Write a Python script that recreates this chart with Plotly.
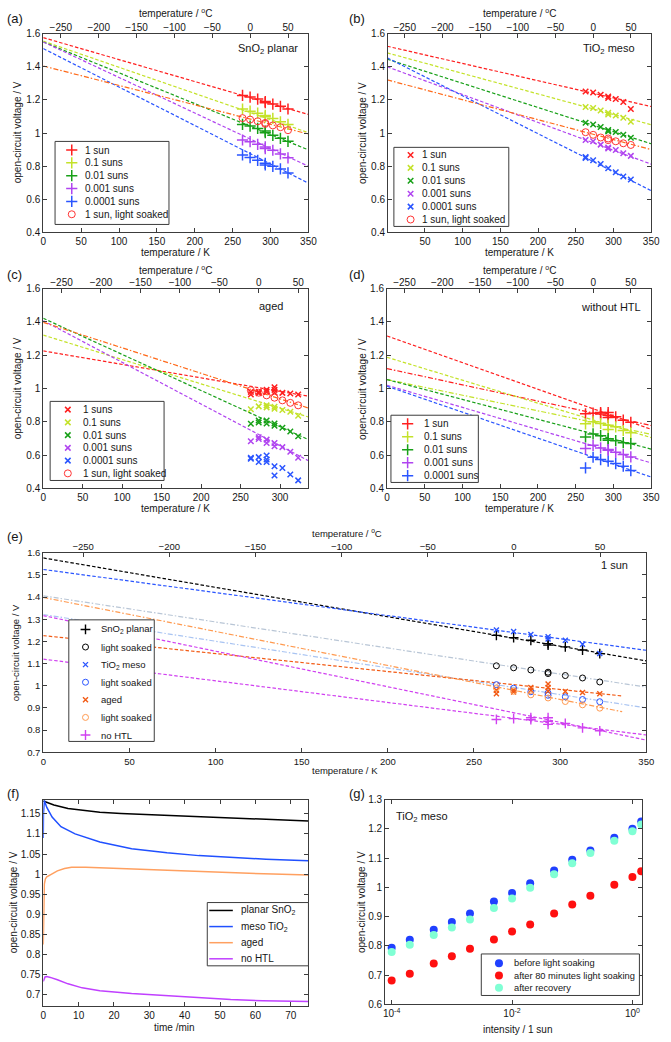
import plotly.graph_objects as go

W, H = 671, 1042
FONT = "Liberation Sans, Arial, Helvetica, sans-serif"
AXC = "#3c3c3c"
TXT = "#161616"

# ---------------- data ----------------
T_STD = [263, 273, 283, 293, 293, 303, 313, 323]
T_7 = [263, 273, 283, 293, 303, 313, 323]
FIT_T = [0, 350]
FIT_T_AGED = [0, 336]

# (a) SnO2 planar
A_1SUN = [1.227, 1.217, 1.205, 1.190, 1.183, 1.175, 1.161, 1.145]
A_01 = [1.145, 1.132, 1.120, 1.106, 1.098, 1.088, 1.068, 1.052]
A_001 = [1.052, 1.042, 1.028, 1.012, 1.002, 0.986, 0.968, 0.950]
A_0001 = [0.958, 0.948, 0.932, 0.916, 0.906, 0.896, 0.874, 0.850]
A_00001 = [0.868, 0.852, 0.835, 0.817, 0.807, 0.799, 0.783, 0.759]
A_LS = [1.090, 1.081, 1.071, 1.061, 1.055, 1.046, 1.035, 1.017]
FA_1SUN = [1.576, 1.112]
FA_01 = [1.555, 1.002]
FA_001 = [1.550, 0.898]
FA_0001 = [1.550, 0.799]
FA_00001 = [1.510, 0.697]
FA_LS = [1.405, 0.994]

# (b) TiO2 meso
B_1SUN = [1.251, 1.245, 1.231, 1.221, 1.211, 1.205, 1.187, 1.145]
B_01 = [1.157, 1.151, 1.136, 1.122, 1.112, 1.106, 1.092, 1.068]
B_001 = [1.062, 1.052, 1.036, 1.018, 1.010, 1.006, 0.990, 0.972]
B_0001 = [0.958, 0.950, 0.930, 0.912, 0.906, 0.898, 0.878, 0.862]
B_00001_T = [263, 263, 273, 283, 293, 303, 313, 323]
B_00001 = [0.855, 0.849, 0.835, 0.813, 0.787, 0.763, 0.737, 0.719]
B_LS = [1.005, 0.989, 0.973, 0.967, 0.957, 0.950, 0.938, 0.928]
FB_1SUN = [1.524, 1.160]
FB_01 = [1.484, 1.050]
FB_001 = [1.446, 0.935]
FB_0001 = [1.400, 0.812]
FB_00001 = [1.454, 0.652]
FB_LS = [1.321, 0.900]

# (c) aged
C_1SUN_T = [263, 263, 273, 273, 283, 283, 293, 293, 293, 303, 313, 323]
C_1SUN = [0.964, 0.980, 0.980, 0.972, 0.992, 0.980, 1.008, 0.992, 0.976, 0.974, 0.970, 0.964]
C_01_T = [263, 273, 283, 283, 293, 293, 303, 313, 323]
C_01 = [0.876, 0.893, 0.899, 0.887, 0.891, 0.879, 0.871, 0.861, 0.837]
C_001_T = [263, 273, 273, 283, 283, 293, 293, 303, 313, 323]
C_001 = [0.788, 0.808, 0.796, 0.808, 0.790, 0.790, 0.776, 0.764, 0.742, 0.713]
C_0001_T = [263, 273, 273, 283, 283, 293, 293, 303, 313, 323]
C_0001 = [0.683, 0.707, 0.697, 0.693, 0.673, 0.673, 0.653, 0.648, 0.620, 0.584]
C_00001_T = [263, 263, 273, 273, 283, 283, 283, 293, 293, 303, 313, 323]
C_00001 = [0.584, 0.578, 0.588, 0.558, 0.598, 0.574, 0.558, 0.533, 0.477, 0.523, 0.483, 0.448]
C_LS = [0.990, 0.975, 0.959, 0.945, 0.929, 0.914, 0.899]
FC_1SUN = [1.226, 0.954]
FC_01 = [1.321, 0.829]
FC_001 = [1.422, 0.693]
FC_0001 = [1.408, 0.566]
FC_LS = [1.398, 0.883]

# (d) without HTL
D_1SUN_T = [263, 273, 283, 283, 293, 293, 293, 303, 313, 323]
D_1SUN = [0.848, 0.852, 0.856, 0.847, 0.856, 0.840, 0.826, 0.830, 0.810, 0.797]
D_01 = [0.788, 0.800, 0.790, 0.780, 0.754, 0.770, 0.748, 0.734]
D_001 = [0.709, 0.727, 0.717, 0.699, 0.689, 0.687, 0.675, 0.669]
D_0001 = [0.639, 0.659, 0.643, 0.633, 0.629, 0.617, 0.603, 0.589]
D_00001 = [0.523, 0.587, 0.573, 0.563, 0.549, 0.533, 0.507]
FD_1SUN_A = [1.316, 0.755]
FD_1SUN_B = [1.120, 0.778]
FD_01_A = [1.188, 0.705]
FD_01_B = [1.054, 0.725]
FD_001 = [1.054, 0.636]
FD_0001 = [1.020, 0.553]
FD_00001 = [1.014, 0.468]

# (f) Voc vs time
F_T_PLANAR = [0, 1, 3, 7, 12, 16, 22, 30, 40, 50, 60, 70, 75]
F_PLANAR = [1.182, 1.178, 1.172, 1.163, 1.158, 1.154, 1.151, 1.148, 1.144, 1.140, 1.137, 1.134, 1.132]
F_T_MESO = [0, 0.05, 0.3, 1, 2.5, 5, 9, 16, 25, 35, 44, 53, 63, 75]
F_MESO = [1.09, 1.15, 1.183, 1.166, 1.142, 1.118, 1.100, 1.080, 1.063, 1.053, 1.046, 1.041, 1.037, 1.033]
F_T_AGED = [0, 0.1, 0.3, 0.6, 1, 2, 4, 6, 8, 12, 18, 25, 35, 45, 55, 65, 75]
F_AGED = [0.825, 0.90, 0.975, 0.988, 0.993, 0.998, 1.008, 1.014, 1.017, 1.017, 1.015, 1.013, 1.009, 1.006, 1.003, 1.000, 0.998]
F_T_NOHTL = [0, 0.5, 1, 2, 4, 7, 11, 16, 25, 35, 44, 53, 62, 75]
F_NOHTL = [0.733, 0.744, 0.745, 0.743, 0.737, 0.727, 0.717, 0.710, 0.703, 0.697, 0.692, 0.688, 0.685, 0.683]

# (g) Voc vs intensity
G_INT = [1e-4, 2e-4, 5e-4, 1e-3, 2e-3, 5e-3, 1e-2, 2e-2, 5e-2, 1e-1, 2e-1, 5e-1, 1.0, 1.4]
G_BEFORE = [0.794, 0.821, 0.855, 0.882, 0.911, 0.952, 0.981, 1.014, 1.058, 1.095, 1.126, 1.170, 1.201, 1.226]
G_AFTER = [0.682, 0.705, 0.740, 0.765, 0.790, 0.822, 0.849, 0.873, 0.911, 0.942, 0.972, 1.009, 1.036, 1.055]
G_RECOV = [0.779, 0.804, 0.837, 0.863, 0.890, 0.930, 0.962, 0.999, 1.045, 1.083, 1.118, 1.160, 1.192, 1.215]

# tick labels
K_TICKS = [0, 50, 100, 150, 200, 250, 300, 350]
C_TICKS = [-250, -200, -150, -100, -50, 0, 50]
Y_ABCD = [0.4, 0.6, 0.8, 1.0, 1.2, 1.4, 1.6]
Y_ABCD_TXT = ["0.4", "0.6", "0.8", "1", "1.2", "1.4", "1.6"]
Y_E = [0.7, 0.8, 0.9, 1.0, 1.1, 1.2, 1.3, 1.4, 1.5, 1.6]
Y_E_TXT = ["0.7", "0.8", "0.9", "1", "1.1", "1.2", "1.3", "1.4", "1.5", "1.6"]
X_F = [0, 10, 20, 30, 40, 50, 60, 70]
Y_F = [0.7, 0.75, 0.8, 0.85, 0.9, 0.95, 1.0, 1.05, 1.1, 1.15]
Y_F_TXT = ["0.7", "0.75", "0.8", "0.85", "0.9", "0.95", "1", "1.05", "1.1", "1.15"]
X_G = [1e-4, 1e-2, 1]
X_G_TXT = ["10<sup>-4</sup>", "10<sup>-2</sup>", "10<sup>0</sup>"]
Y_G = [0.6, 0.7, 0.8, 0.9, 1.0, 1.1, 1.2, 1.3]
Y_G_TXT = ["0.6", "0.7", "0.8", "0.9", "1", "1.1", "1.2", "1.3"]

# ---------------- styles ----------------
RED = "#ff1f1f"
YEL = "#c4e22a"
GRN = "#18a018"
PUR = "#b044f0"
BLU = "#2a55ff"
ORG = "#ff6a1a"
LSRED = "#ff3434"
E_LS_SN = "#b9c6d6"
E_LS_TI = "#a9c4f2"
E_AGED = "#f25a14"
E_AGED_LS = "#ff9a50"
MAG = "#d040f0"
F_BLU = "#2050ff"
F_ORG = "#ffa060"
F_MAG = "#c040ff"
G_BLU = "#2040ff"
G_RED = "#ff1010"
G_CYAN = "#80ffd4"
DASH = "3.5px,2px"
DASHDOT = "5px,2px,1.5px,2px"

fig = go.Figure()
annotations = []


def A(x, y, text, size=10, xanchor="center", angle=0, color=TXT):
    annotations.append(dict(x=x / W, y=1 - y / H, xref="paper", yref="paper", text=text,
                            showarrow=False, xanchor=xanchor, yanchor="middle",
                            textangle=angle, font=dict(family=FONT, size=size, color=color)))


def mk(symbol, color, size, lw=1.4):
    return dict(symbol=symbol, color=color, size=size, line=dict(color=color, width=lw))


def line(xr, yr, T, V, color, dash, width=1.2):
    fig.add_trace(go.Scatter(x=T, y=V, mode="lines", xaxis=xr, yaxis=yr,
                             line=dict(color=color, dash=dash, width=width),
                             showlegend=False, hoverinfo="skip"))


def pts(xr, yr, T, V, marker):
    fig.add_trace(go.Scatter(x=T, y=V, mode="markers", xaxis=xr, yaxis=yr, marker=marker,
                             showlegend=False, hoverinfo="skip"))


def base_axis(**kw):
    d = dict(showgrid=False, zeroline=False, showline=True, linecolor=AXC, linewidth=1,
             ticks="inside", ticklen=4, tickwidth=1, tickcolor=AXC, mirror=True,
             tickfont=dict(family=FONT, size=10, color=TXT), layer="above traces")
    d.update(kw)
    return d


def xdom(x0, x1):
    return [x0 / W, x1 / W]


def ydom(y0, y1):
    return [1 - y1 / H, 1 - y0 / H]


layout_axes = {}

# panel boxes in pixels (x0, y0, x1, y1)
BOX = {
    "a": (41, 28, 311, 229),
    "b": (392, 28, 660, 229),
    "c": (41, 286, 311, 488),
    "d": (391, 286, 660, 488),
    "e": (41, 553, 655, 755),
    "f": (41, 803, 311, 1012),
    "g": (389, 803, 651, 1010),
}
XR = {"a": [0, 350], "b": [1, 350], "c": [0, 336], "d": [0, 350], "e": [0, 350]}
IDS = {"a": ("x", "y", "xaxis", "yaxis"), "b": ("x2", "y2", "xaxis2", "yaxis2"),
       "c": ("x3", "y3", "xaxis3", "yaxis3"), "d": ("x4", "y4", "xaxis4", "yaxis4"),
       "e": ("x5", "y5", "xaxis5", "yaxis5")}
TOP = {"a": ("x8", "xaxis8"), "b": ("x9", "xaxis9"), "c": ("x10", "xaxis10"),
       "d": ("x11", "xaxis11"), "e": ("x12", "xaxis12")}

for key in ["a", "b", "c", "d", "e"]:
    x0, y0, x1, y1 = BOX[key]
    xid, yid, xname, yname = IDS[key]
    fs = 9.5 if key == "e" else 10
    xt = K_TICKS if key != "b" else K_TICKS[1:]
    layout_axes[xname] = base_axis(domain=xdom(x0, x1), range=XR[key], anchor=yid,
                                   tickvals=xt, mirror=True,
                                   tickfont=dict(family=FONT, size=fs, color=TXT))
    yt, ytt, yrng = (Y_E, Y_E_TXT, [0.7, 1.6]) if key == "e" else (Y_ABCD, Y_ABCD_TXT, [0.4, 1.6])
    layout_axes[yname] = base_axis(domain=ydom(y0, y1), range=yrng, anchor=xid,
                                   tickvals=yt, ticktext=ytt, mirror="ticks",
                                   tickfont=dict(family=FONT, size=fs, color=TXT))
    tid, tname = TOP[key]
    layout_axes[tname] = base_axis(overlaying=xid, side="top", anchor=yid,
                                   range=[XR[key][0] - 273.15, XR[key][1] - 273.15],
                                   tickvals=C_TICKS, showline=False, mirror=False,
                                   tickfont=dict(family=FONT, size=fs, color=TXT))
    fig.add_trace(go.Scatter(x=[None], y=[None], xaxis=tid, yaxis=yid, showlegend=False,
                             hoverinfo="skip"))

# (f)
x0, y0, x1, y1 = BOX["f"]
layout_axes["xaxis6"] = base_axis(domain=xdom(x0, x1), range=[0, 75], anchor="y6",
                                  tickvals=X_F, mirror="ticks")
layout_axes["yaxis6"] = base_axis(domain=ydom(y0, y1), range=[0.671, 1.185], anchor="x6",
                                  tickvals=Y_F, ticktext=Y_F_TXT, mirror="ticks")
# (g)
x0, y0, x1, y1 = BOX["g"]
layout_axes["xaxis7"] = base_axis(domain=xdom(x0, x1), type="log", range=[-4.11, 0.165],
                                  anchor="y7", tickvals=X_G, ticktext=X_G_TXT, mirror="ticks")
layout_axes["yaxis7"] = base_axis(domain=ydom(y0, y1), range=[0.6, 1.3], anchor="x7",
                                  tickvals=Y_G, ticktext=Y_G_TXT, mirror="ticks")
# overlay in pixel coordinates for legend keys
layout_axes["xaxis13"] = dict(domain=[0, 1], range=[0, W], anchor="y13", visible=False,
                              fixedrange=True)
layout_axes["yaxis13"] = dict(domain=[0, 1], range=[H, 0], anchor="x13", visible=False,
                              fixedrange=True)

# ---------------- (a) ----------------
for V, c in [(FA_1SUN, RED), (FA_01, YEL), (FA_001, GRN), (FA_0001, PUR), (FA_00001, BLU)]:
    line("x", "y", FIT_T, V, c, DASH)
line("x", "y", FIT_T, FA_LS, ORG, DASHDOT)
for V, c in [(A_1SUN, RED), (A_01, YEL), (A_001, GRN), (A_0001, PUR), (A_00001, BLU)]:
    pts("x", "y", T_STD, V, mk("cross-thin", c, 8, 1.5))
pts("x", "y", T_STD, A_LS, mk("circle-open", LSRED, 7, 1))

# ---------------- (b) ----------------
for V, c in [(FB_1SUN, RED), (FB_01, YEL), (FB_001, GRN), (FB_0001, PUR), (FB_00001, BLU)]:
    line("x2", "y2", FIT_T, V, c, DASH)
line("x2", "y2", FIT_T, FB_LS, ORG, DASHDOT)
for T, V, c in [(T_STD, B_1SUN, RED), (T_STD, B_01, YEL), (T_STD, B_001, GRN),
                (T_STD, B_0001, PUR), (B_00001_T, B_00001, BLU)]:
    pts("x2", "y2", T, V, mk("x-thin", c, 5.5, 1.5))
pts("x2", "y2", T_STD, B_LS, mk("circle-open", LSRED, 7, 1))

# ---------------- (c) ----------------
for V, c in [(FC_1SUN, RED), (FC_01, YEL), (FC_001, GRN), (FC_0001, PUR)]:
    line("x3", "y3", FIT_T_AGED, V, c, DASH)
line("x3", "y3", FIT_T_AGED, FC_LS, ORG, DASHDOT)
for T, V, c in [(C_1SUN_T, C_1SUN, RED), (C_01_T, C_01, YEL), (C_001_T, C_001, GRN),
                (C_0001_T, C_0001, PUR), (C_00001_T, C_00001, BLU)]:
    pts("x3", "y3", T, V, mk("x-thin", c, 5.5, 1.5))
pts("x3", "y3", T_7, C_LS, mk("circle-open", LSRED, 7, 1))

# ---------------- (d) ----------------
line("x4", "y4", FIT_T, FD_1SUN_A, RED, DASH)
line("x4", "y4", FIT_T, FD_1SUN_B, RED, DASHDOT)
line("x4", "y4", FIT_T, FD_01_A, YEL, DASH)
line("x4", "y4", FIT_T, FD_01_B, YEL, DASHDOT)
line("x4", "y4", FIT_T, FD_001, GRN, DASH)
line("x4", "y4", FIT_T, FD_0001, PUR, DASH)
line("x4", "y4", FIT_T, FD_00001, BLU, DASH)
for T, V, c in [(D_1SUN_T, D_1SUN, RED), (T_STD, D_01, YEL), (T_STD, D_001, GRN),
                (T_STD, D_0001, PUR), (T_7, D_00001, BLU)]:
    pts("x4", "y4", T, V, mk("cross-thin", c, 8, 1.5))

# ---------------- (e) ----------------
line("x5", "y5", FIT_T, FA_1SUN, "#000000", DASH)
line("x5", "y5", FIT_T, FA_LS, E_LS_SN, DASHDOT)
line("x5", "y5", FIT_T, FB_1SUN, BLU, DASH)
line("x5", "y5", FIT_T, FB_LS, E_LS_TI, DASHDOT)
line("x5", "y5", FIT_T_AGED, FC_1SUN, E_AGED, DASH)
line("x5", "y5", FIT_T_AGED, FC_LS, E_AGED_LS, DASHDOT)
line("x5", "y5", FIT_T, FD_1SUN_A, MAG, DASH)
line("x5", "y5", FIT_T, FD_1SUN_B, MAG, DASH)
pts("x5", "y5", T_STD, A_1SUN, mk("cross-thin", "#000000", 7, 1.4))
pts("x5", "y5", T_STD, A_LS, mk("circle-open", "#000000", 6, 1))
pts("x5", "y5", T_STD, B_1SUN, mk("x-thin", BLU, 5, 1.4))
pts("x5", "y5", T_STD, B_LS, mk("circle-open", BLU, 6, 1))
pts("x5", "y5", C_1SUN_T, C_1SUN, mk("x-thin", E_AGED, 5, 1.4))
pts("x5", "y5", T_7, C_LS, mk("circle-open", E_AGED_LS, 6, 1))
pts("x5", "y5", D_1SUN_T, D_1SUN, mk("cross-thin", MAG, 7, 1.4))

# ---------------- (f) ----------------
for T, V, c in [(F_T_PLANAR, F_PLANAR, "#000000"), (F_T_MESO, F_MESO, F_BLU),
                (F_T_AGED, F_AGED, F_ORG), (F_T_NOHTL, F_NOHTL, F_MAG)]:
    line("x6", "y6", T, V, c, "solid", 1.5)

# ---------------- (g) ----------------
pts("x7", "y7", G_INT, G_BEFORE, dict(symbol="circle", color=G_BLU, size=8, line=dict(width=0)))
pts("x7", "y7", G_INT, G_AFTER, dict(symbol="circle", color=G_RED, size=8, line=dict(width=0)))
pts("x7", "y7", G_INT, G_RECOV, dict(symbol="circle", color=G_CYAN, size=8, line=dict(width=0)))


# ---------------- legends (drawn on the pixel overlay) ----------------
def legend(box, entries, xs, xt, yfirst, dy, size=10):
    bx0, by0, bx1, by1 = box
    fig.add_trace(go.Scatter(x=[bx0, bx1, bx1, bx0, bx0], y=[by0, by0, by1, by1, by0],
                             mode="lines", fill="toself", fillcolor="white",
                             line=dict(color=AXC, width=1), xaxis="x13", yaxis="y13",
                             showlegend=False, hoverinfo="skip"))
    for i, (label, kind, style) in enumerate(entries):
        yy = yfirst + i * dy
        if kind == "line":
            fig.add_trace(go.Scatter(x=[xs - 12, xs + 12], y=[yy, yy], mode="lines",
                                     line=dict(color=style, width=1.5), xaxis="x13",
                                     yaxis="y13", showlegend=False, hoverinfo="skip"))
        else:
            fig.add_trace(go.Scatter(x=[xs], y=[yy], mode="markers", marker=style,
                                     xaxis="x13", yaxis="y13", showlegend=False,
                                     hoverinfo="skip"))
        A(xt, yy, label, size=size, xanchor="left")


SUNS = ["1 sun", "0.1 suns", "0.01 suns", "0.001 suns", "0.0001 suns"]
COLS = [RED, YEL, GRN, PUR, BLU]
legend((53, 137, 169, 221),
       [(s, "m", mk("cross-thin", c, 8, 1.5)) for s, c in zip(SUNS, COLS)]
       + [("1 sun, light soaked", "m", mk("circle-open", LSRED, 7, 1))],
       70, 81, 145.7, 13.0)
legend((398, 143, 515, 223),
       [(s, "m", mk("x-thin", c, 5.5, 1.5)) for s, c in zip(SUNS, COLS)]
       + [("1 sun, light soaked", "m", mk("circle-open", LSRED, 7, 1))],
       415, 425, 150.7, 13.06)
legend((48, 400, 164, 480),
       [(s, "m", mk("x-thin", c, 5.5, 1.5)) for s, c in zip(["1 suns"] + SUNS[1:], COLS)]
       + [("1 sun, light soaked", "m", mk("circle-open", LSRED, 7, 1))],
       66, 79, 408.3, 12.9)
legend((395, 414, 484, 482),
       [(s, "m", mk("cross-thin", c, 8, 1.5)) for s, c in zip(SUNS, COLS)],
       412, 427, 422.7, 13.1)
legend((67, 621, 154, 744),
       [("SnO<sub>2</sub> planar", "m", mk("cross-thin", "#000000", 7, 1.4)),
        ("light soaked", "m", mk("circle-open", "#000000", 6, 1)),
        ("TiO<sub>2</sub> meso", "m", mk("x-thin", BLU, 5, 1.4)),
        ("light soaked", "m", mk("circle-open", BLU, 6, 1)),
        ("aged", "m", mk("x-thin", E_AGED, 5, 1.4)),
        ("light soaked", "m", mk("circle-open", E_AGED_LS, 6, 1)),
        ("no HTL", "m", mk("cross-thin", MAG, 7, 1.4))],
       84, 98, 630.7, 17.8, size=9.5)
legend((208, 907, 311, 971),
       [("planar SnO<sub>2</sub>", "line", "#000000"),
        ("meso TiO<sub>2</sub>", "line", F_BLU),
        ("aged", "line", F_ORG),
        ("no HTL", "line", F_MAG)],
       222, 240, 915, 16.3)
legend((487, 959, 648, 1001),
       [("before light soaking", "m", dict(symbol="circle", color=G_BLU, size=8)),
        ("after 80 minutes light soaking", "m", dict(symbol="circle", color=G_RED, size=8)),
        ("after recovery", "m", dict(symbol="circle", color=G_CYAN, size=8))],
       505, 518, 968.3, 12.5, size=9.3)

# ---------------- texts ----------------
DEG = "temperature / <sup>o</sup>C"
VOC = "open-circuit voltage / V"
TK = "temperature / K"
# (a)
A(2, 13, "(a)", 13, "left"); A(176, 7, DEG); A(176, 249, TK); A(15, 128, VOC, angle=-90)
A(302, 43, "SnO<sub>2</sub> planar", 11, "right")
# (b)
A(350, 13, "(b)", 13, "left"); A(526, 7, DEG); A(526, 249, TK); A(366, 128, VOC, angle=-90)
A(646, 43, "TiO<sub>2</sub> meso", 11, "right")
# (c)
A(2, 272, "(c)", 13, "left"); A(176, 267, DEG); A(176, 508, TK); A(15, 387, VOC, angle=-90)
A(287, 303, "aged", 11, "right")
# (d)
A(350, 272, "(d)", 13, "left"); A(526, 267, DEG); A(526, 508, TK); A(366, 387, VOC, angle=-90)
A(652, 305, "without HTL", 11, "right")
# (e)
A(2, 537, "(e)", 13, "left"); A(350, 533, DEG, 9.5); A(348, 773, TK, 9.5)
A(13, 654, VOC, 9.5, angle=-90); A(638, 566, "1 sun", 11, "right")
# (f)
A(2, 797, "(f)", 13, "left"); A(175, 1033, "time /min"); A(11, 907, VOC, angle=-90)
# (g)
A(350, 797, "(g)", 13, "left"); A(524, 1035, "intensity / 1 sun"); A(365, 906, VOC, angle=-90)
A(398, 820, "TiO<sub>2</sub> meso", 11, "left")

fig.update_layout(width=W, height=H, margin=dict(l=0, r=0, t=0, b=0),
                  paper_bgcolor="white", plot_bgcolor="rgba(0,0,0,0)",
                  showlegend=False, annotations=annotations,
                  font=dict(family=FONT, size=10, color=TXT), **layout_axes)

fig.write_html("out.html", config={"displayModeBar": False},
               post_script="document.body.style.margin='0px';"
                           "document.body.style.overflow='hidden';")
